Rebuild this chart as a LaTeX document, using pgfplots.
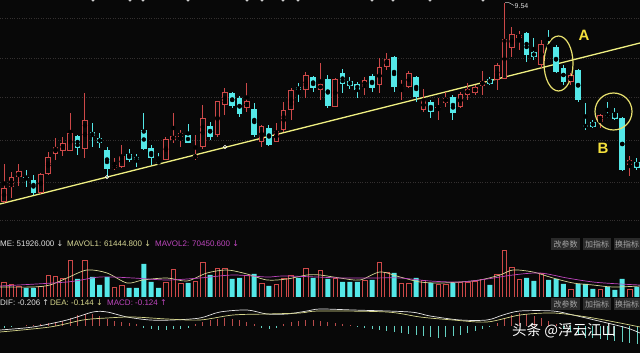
\documentclass[border=0pt]{standalone}
\usepackage{pgfplots}
\pgfplotsset{compat=1.18}
\usepackage{pgfplotstable}
\usepackage{fontspec}
\setmainfont{Liberation Sans}
\newfontfamily\cjk{Noto Sans CJK SC}
\newfontfamily\arr{DejaVu Sans}

\definecolor{bg}{RGB}{8,8,8}
\definecolor{upred}{RGB}{205,72,72}
\definecolor{dncyan}{RGB}{84,232,232}
\definecolor{trend}{RGB}{240,240,130}
\definecolor{circ}{RGB}{232,224,110}
\definecolor{lbl}{RGB}{245,225,60}
\definecolor{gridc}{RGB}{52,48,48}
\definecolor{mav1}{RGB}{215,215,150}
\definecolor{mav2}{RGB}{190,70,190}
\definecolor{dea}{RGB}{215,215,140}
\definecolor{hred}{RGB}{185,75,75}
\definecolor{hcyan}{RGB}{100,210,195}
\definecolor{btn}{RGB}{42,42,42}
\definecolor{btntxt}{RGB}{165,165,165}

% candles: i open high low close volume (price levels in chart units)
\pgfplotstableread{
i o h l c v
0 28 66 27 42 15
1 43 58 32 53 13
2 53 66 44 59 11
5 37 57 36 56 11
6 56 78 55 73 22
7 76 92 70 83 21
8 79 93 74 87 19
9 79 117 79 97 37
11 81 137 72 110 37
15 62 72 60 65 10
16 63 85 62 74 12
22 70 93 70 91 15
23 90 117 87 94 28
24 93 100 83 97 14
26 72 95 70 75 16
27 83 125 81 112 35
29 95 129 93 129 29
30 125 142 115 138 29
33 122 147 118 129 22
35 88 105 83 104 14
37 88 107 88 99 13
38 100 128 98 120 19
39 120 142 110 140 22
41 140 158 132 155 29
43 140 167 130 146 27
45 123 152 123 151 19
49 143 153 135 150 17
51 145 172 137 163 35
52 163 177 160 171 25
54 143 150 130 145 14
55 143 159 142 157 14
57 120 141 118 130 17
59 122 132 110 123 13
60 127 138 123 132 13
62 123 138 122 136 15
63 135 147 130 141 15
64 137 145 135 143 16
65 144 159 135 149 18
67 150 167 140 165 23
68 151 227 151 191 47
69 182 203 173 196 30
70 192 199 180 195 18
73 165 190 162 186 24
77 148 157 145 155 8
81 108 116 102 115 8
85 65 74 54 70 8
}\up

\pgfplotstableread{
i o h l c v
3 53 60 43 52 9
4 50 55 35 37 9
10 94 95 75 82 18
12 98 107 83 94 20
13 92 97 82 87 12
14 80 83 53 61 20
17 76 81 68 70 9
18 73 76 63 70 9
19 100 117 80 81 33
20 82 85 65 72 15
21 68 77 66 67 9
25 95 106 87 87 14
28 104 108 90 93 22
31 137 138 122 124 18
32 132 134 113 116 19
34 121 127 93 95 23
36 102 105 84 85 11
40 143 147 128 140 19
42 153 154 138 142 19
44 151 155 122 124 18
46 157 161 137 146 15
47 149 153 141 144 15
48 146 148 132 140 15
50 154 156 138 142 17
53 173 174 138 143 24
56 153 154 128 133 19
58 128 130 112 118 14
61 133 135 110 117 14
66 151 153 145 146 12
71 197 198 168 175 19
72 178 192 170 173 16
74 184 200 182 183 17
75 183 185 157 158 18
76 162 165 145 148 13
78 160 161 128 130 13
79 105 127 100 103 13
80 108 110 102 103 8
82 115 128 112 114 10
83 117 122 110 111 7
84 112 113 59 60 18
86 68 72 60 62 10
}\down

\pgfplotstableread{
i m
0 -2
1 -1
2 0
3 1
4 1
5 2
6 3
7 4
8 5
9 8
10 11
11 12
12 12
13 10
14 7
15 5
16 4
17 3
18 2
19 -2
20 -3
21 -4
22 -4
23 -3
24 -3
25 -2
26 2
27 4
28 6
29 7
30 8
31 7
32 6
33 4
34 2
35 -2
36 -3
37 -2
38 2
39 4
40 5
41 6
42 6
43 5
44 4
45 3
46 2
47 1
48 -1
49 -2
50 -3
51 -4
52 -5
53 -6
54 -7
55 -8
56 -9
57 -10
58 -11
59 -12
60 -11
61 -10
62 -9
63 -7
64 -5
65 -3
66 -1
67 3
68 7
69 11
70 13
71 12
72 10
73 8
74 5
75 2
76 -3
77 -6
78 -9
79 -12
80 -12
81 -13
82 -14
83 -15
84 -16
85 -17
86 -18
}\macd

\pgfplotsset{
  panel/.style={scale only axis, width=640pt, xmin=0, xmax=640,
    anchor=south west, axis line style={draw=none},
    xtick=\empty, ytick=\empty, major tick length=0pt},
  eb/.style={only marks, mark=none, error bars/.cd, y dir=both, y explicit,
    error mark=none, error bar style={#1}},
}

\begin{document}
\begin{tikzpicture}
\useasboundingbox (0,0) rectangle (640pt,353pt);
\fill[bg] (0,0) rectangle (640pt,353pt);

% ---------- price panel ----------
\begin{axis}[panel, at={(0pt,127pt)}, height=226pt, ymin=4, ymax=230,
  ytick={10,48,90,133,172,212}, yticklabels={}, ymajorgrids,
  grid style={dotted, gridc, line width=0.6pt}]
% trend line
\addplot[trend, line width=1.3pt] coordinates {(0,26) (640,187)};
% up candles (hollow red)
\addplot[eb={upred, line width=1pt}] table[x expr={4+7.36*\thisrow{i}},
  y expr={(\thisrow{h}+\thisrow{l})/2}, y error expr={(\thisrow{h}-\thisrow{l})/2}]{\up};
\addplot[eb={upred, line width=5.6pt}] table[x expr={4+7.36*\thisrow{i}},
  y expr={(\thisrow{o}+\thisrow{c})/2}, y error expr={max((\thisrow{c}-\thisrow{o})/2,0.6)}]{\up};
\addplot[eb={bg, line width=3.6pt}] table[x expr={4+7.36*\thisrow{i}},
  y expr={(\thisrow{o}+\thisrow{c})/2}, y error expr={max((\thisrow{c}-\thisrow{o})/2-1,0)}]{\up};
% down candles (filled cyan)
\addplot[eb={dncyan, line width=1pt}] table[x expr={4+7.36*\thisrow{i}},
  y expr={(\thisrow{h}+\thisrow{l})/2}, y error expr={(\thisrow{h}-\thisrow{l})/2}]{\down};
\addplot[eb={dncyan, line width=5.6pt}] table[x expr={4+7.36*\thisrow{i}},
  y expr={(\thisrow{o}+\thisrow{c})/2}, y error expr={max((\thisrow{o}-\thisrow{c})/2,0.6)}]{\down};
% anchor points of the drawn line
\addplot[only marks, mark=o, mark size=1.8pt, white, line width=0.6pt] coordinates {(107,53) (225,83)};
% cut-off markers at the top edge
\addplot[only marks, mark=*, mark size=1.3pt, white!85!black] coordinates {
 (93,230) (130,230) (143,230) (188,230) (247,230) (262,230) (283,230)
 (298,230) (372,230) (393,230) (430,230) (483,230)};
% high label
\draw[white!80!black, line width=0.5pt] (axis cs:505,227.3) -- (axis cs:509,227.3) -- (axis cs:514,224.5);
\node[anchor=west, inner sep=0pt, text=white!85!black, font=\fontsize{7}{8}\selectfont] at (axis cs:514.5,223.5) {9.54};
% circles and labels
\draw[circ, line width=1.2pt] (axis cs:558.5,166.5) ellipse [x radius=14.5, y radius=27.5];
\draw[circ, line width=1.2pt] (axis cs:613.5,118.5) ellipse [x radius=18.5, y radius=18.5];
\node[text=lbl, font=\bfseries\fontsize{15}{15}\selectfont] at (axis cs:584,195) {A};
\node[text=lbl, font=\bfseries\fontsize{15}{15}\selectfont] at (axis cs:603,82) {B};
\end{axis}

% ---------- volume panel ----------
\begin{axis}[panel, at={(0pt,56pt)}, height=50pt, ymin=0, ymax=50]
\addplot[ybar, bar width=4.6pt, bar shift=0pt, draw=upred, fill=bg, line width=0.7pt]
  table[x expr={4+7.36*\thisrow{i}}, y=v]{\up};
\addplot[ybar, bar width=5pt, bar shift=0pt, draw=none, fill=dncyan]
  table[x expr={4+7.36*\thisrow{i}}, y=v]{\down};
\addplot[mav1, line width=0.7pt, smooth] coordinates {
 (0,10) (33,10) (50,12) (67,19) (87,27) (107,24) (127,14) (143,17) (167,19)
 (187,16) (207,24) (227,27) (247,23) (267,17) (287,18) (307,22) (320,22)
 (340,19) (360,17) (380,25) (400,20) (420,15) (440,14) (460,15) (480,17)
 (500,22) (513,27) (533,25) (553,19) (573,14) (593,12) (613,10) (640,11)};
\addplot[mav2, line width=0.7pt, smooth] coordinates {
 (0,11) (67,15) (100,20) (133,19) (167,17) (200,19) (233,22) (267,20)
 (283,21) (317,20) (340,19) (370,19) (400,19) (430,16) (460,15) (487,18)
 (513,22) (540,24) (567,19) (593,15) (620,13) (640,12)};
\end{axis}

% ---------- MACD panel ----------
\begin{axis}[panel, at={(0pt,0pt)}, height=48pt, ymin=-27, ymax=21]
\addplot[ycomb, hred, line width=0.8pt, restrict y to domain=0:100]
  table[x expr={4+7.36*\thisrow{i}}, y=m]{\macd};
\addplot[ycomb, hcyan, line width=0.8pt, restrict y to domain=-100:0]
  table[x expr={4+7.36*\thisrow{i}}, y=m]{\macd};
\addplot[white!90!black, line width=0.7pt, smooth] coordinates {
 (0,-4) (33,-1) (67,6) (93,14) (107,14) (127,9) (150,6) (173,6) (200,8)
 (220,14) (247,16) (267,12) (287,12) (307,15) (320,17) (353,16) (410,14)
 (430,10) (460,6) (487,6) (503,11) (520,15) (553,15) (573,11) (603,4)
 (627,-2) (640,-7)};
\addplot[dea, line width=0.7pt, smooth] coordinates {
 (0,-6) (50,-1) (83,6) (107,8) (133,9) (167,7) (200,6) (233,11) (267,12)
 (300,13) (320,15) (387,14) (420,9) (453,6) (487,4) (520,11) (553,13)
 (587,9) (620,3) (640,-1)};
\end{axis}

% ---------- header texts ----------
\begin{scope}[every node/.style={anchor=west, inner sep=0pt, font=\fontsize{8}{9}\selectfont}]
\node[text=white!88!black] at (0pt,109pt) {ME: 51926.000 {\arr↓}};
\node[text=mav1] at (67pt,109pt) {MAVOL1: 61444.800 {\arr↓}};
\node[text=mav2] at (155pt,109pt) {MAVOL2: 70450.600 {\arr↓}};
\node[text=white!88!black] at (0pt,50pt) {DIF: -0.206 {\arr↑}};
\node[text=dea] at (50pt,50pt) {DEA: -0.144 {\arr↓}};
\node[text=mav2] at (107pt,50pt) {MACD: -0.124 {\arr↑}};
\end{scope}

% ---------- buttons ----------
\foreach \yy in {109,49}{
  \fill[btn] (551pt,\yy pt-6pt) rectangle (580pt,\yy pt+6pt);
  \fill[btn] (583pt,\yy pt-6pt) rectangle (611pt,\yy pt+6pt);
  \fill[btn] (614pt,\yy pt-6pt) rectangle (640pt,\yy pt+6pt);
  \node[text=btntxt, inner sep=0pt, font=\cjk\fontsize{8}{9}\selectfont] at (565.5pt,\yy pt) {改参数};
  \node[text=btntxt, inner sep=0pt, font=\cjk\fontsize{8}{9}\selectfont] at (597pt,\yy pt) {加指标};
  \node[text=btntxt, inner sep=0pt, font=\cjk\fontsize{8}{9}\selectfont] at (627pt,\yy pt) {换指标};
}

% ---------- watermark ----------
\node[anchor=west, inner sep=0pt, text=white, font=\cjk\fontsize{14.5}{16}\selectfont] at (512pt,22pt) {头条 @浮云江山};
\end{tikzpicture}
\end{document}
